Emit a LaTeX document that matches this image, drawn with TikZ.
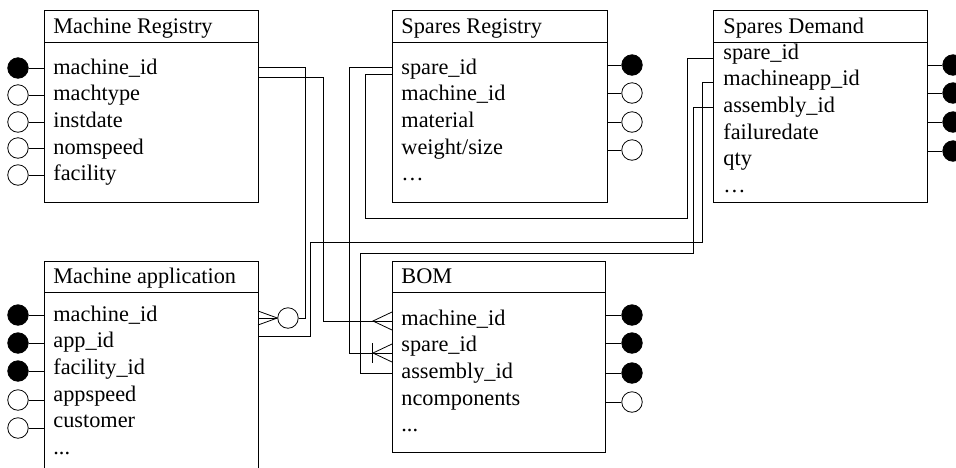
\documentclass[tikz,border=0pt]{standalone}
\usepackage{fontspec}
\setmainfont{Liberation Serif}
\newcommand\dotsthree{.\kern0pt.\kern0pt.}
\newcommand\elli{…}
\begin{document}
\begin{tikzpicture}[x=1pt,y=-1pt,line width=0.8pt,
  box/.style={draw,anchor=north west,inner sep=0pt,minimum width=214pt},
  txt/.style={anchor=base west,inner sep=0pt,font=\fontsize{22.3}{26}\selectfont},
  key/.style={circle,draw,fill=black,minimum size=20.5pt,inner sep=0pt},
  attr/.style={circle,draw,fill=white,minimum size=20.5pt,inner sep=0pt},
  conn/.style={draw,line width=0.8pt}]
\useasboundingbox (0,0) rectangle (956,467);

% ---------- boxes ----------
\node[box,minimum height=192pt] (mr) at (44,10) {};
\node[box,minimum height=192pt,minimum width=215pt] (sr) at (392,10) {};
\node[box,minimum height=192pt] (sd) at (713,10) {};
\node[box,minimum height=230pt] (ma) at (44,261) {};
\node[box,minimum height=191pt,minimum width=213pt] (bom) at (392,261) {};
\draw (mr.north west) ++(0,32) -- ++(214,0);
\draw (sr.north west) ++(0,32) -- ++(215,0);
\draw (sd.north west) ++(0,32) -- ++(214,0);
\draw (ma.north west) ++(0,31) -- ++(214,0);
\draw (bom.north west) ++(0,31) -- ++(213,0);

% ---------- titles ----------
\node[txt] (mrT) at (53,33) {Machine Registry};
\node[txt] (srT) at (401,33) {Spares Registry};
\node[txt] (sdT) at (723,33) {Spares Demand};
\node[txt] (maT) at (53,283) {Machine application};
\node[txt] (bomT) at (401,283) {BOM};

% ---------- fields ----------
\foreach \t [count=\i] in {machine\_id,machtype,instdate,nomspeed,facility}
  \node[txt] (mr\i) at (53,{74+(\i-1)*26.7}) {\t};
\foreach \t [count=\i] in {spare\_id,machine\_id,material,weight/size,\elli}
  \node[txt] (sr\i) at (401,{74+(\i-1)*26.7}) {\t};
\foreach \t [count=\i] in {spare\_id,machineapp\_id,assembly\_id,failuredate,qty,\elli}
  \node[txt] (sd\i) at (723,{59+(\i-1)*26.7}) {\t};
\foreach \t [count=\i] in {machine\_id,app\_id,facility\_id,appspeed,customer,\dotsthree}
  \node[txt] (ma\i) at (53,{321+(\i-1)*26.7}) {\t};
\foreach \t [count=\i] in {machine\_id,spare\_id,assembly\_id,ncomponents,\dotsthree}
  \node[txt] (bom\i) at (401,{325+(\i-1)*26.7}) {\t};

% ---------- attribute circles ----------
\foreach \yy/\s [count=\i] in {68/key,95/attr,122/attr,148/attr,175/attr}{
  \node[\s] (mrc\i) at (18,\yy) {};
  \draw (mrc\i) -- (mr.west |- mrc\i);}
\foreach \yy/\s [count=\i] in {315/key,343/key,371/key,400/attr,428/attr}{
  \node[\s] (mac\i) at (18,\yy) {};
  \draw (mac\i) -- (ma.west |- mac\i);}
\foreach \yy/\s [count=\i] in {65/key,93/attr,122/attr,150/attr}{
  \node[\s] (src\i) at (632,\yy) {};
  \draw (src\i) -- (sr.east |- src\i);}
\foreach \yy/\s [count=\i] in {65/key,93/key,122/key,151/key}{
  \node[\s] (sdc\i) at (953,\yy) {};
  \draw (sdc\i) -- (sd.east |- sdc\i);}
\foreach \yy/\s [count=\i] in {315/key,343/key,373/key,402/attr}{
  \node[\s] (bomc\i) at (632,\yy) {};
  \draw (bomc\i) -- (bom.east |- bomc\i);}

% ---------- attachment points ----------
\coordinate (mrA) at (258,67);  \coordinate (mrB) at (258,77);
\coordinate (srA) at (392,67);  \coordinate (srB) at (392,74);
\coordinate (sdA) at (713,58);  \coordinate (sdB) at (713,82);  \coordinate (sdC) at (713,107);
\coordinate (maA1) at (258,311); \coordinate (maA2) at (258,318); \coordinate (maA3) at (258,325);
\coordinate (maB) at (258,336);
\coordinate (bomA1) at (392,312); \coordinate (bomA) at (392,321); \coordinate (bomA3) at (392,330);
\coordinate (bomB1) at (392,344); \coordinate (bomB) at (392,353); \coordinate (bomB3) at (392,362);
\coordinate (bomC) at (392,373);

% ---------- relationships ----------
% Machine Registry -> Machine application (zero or many)
\node[attr] (zA) at (288,318) {};
\draw[conn] (mrA) -- (305,67) -- (305,318) -- (zA.east);
\draw[conn] (zA.west) -- (maA1);
\draw[conn] (zA.west) -- (maA2);
\draw[conn] (zA.west) -- (maA3);

% Machine Registry -> BOM machine_id (many)
\coordinate (cfA) at (373,321);
\draw[conn] (mrB) -- (323,77) -- (323,321) -- (bomA);
\draw[conn] (bomA1) -- (cfA) -- (bomA3);

% Spares Registry -> BOM spare_id (one or many)
\coordinate (cfB) at (373,353);
\draw[conn] (srA) -- (349,67) -- (349,353) -- (bomB);
\draw[conn] (bomB1) -- (cfB) -- (bomB3);
\draw[conn] (372,343) -- (372,363);

% Spares Registry -> Spares Demand spare_id
\draw[conn] (srB) -- (365,74) -- (365,218) -- (687,218) -- (687,58) -- (sdA);

% Spares Demand machineapp_id -> Machine application
\draw[conn] (sdB) -- (702,82) -- (702,242) -- (310,242) -- (310,336) -- (maB);

% Spares Demand assembly_id -> BOM assembly_id
\draw[conn] (sdC) -- (693,107) -- (693,253) -- (360,253) -- (360,373) -- (bomC);
\end{tikzpicture}
\end{document}
